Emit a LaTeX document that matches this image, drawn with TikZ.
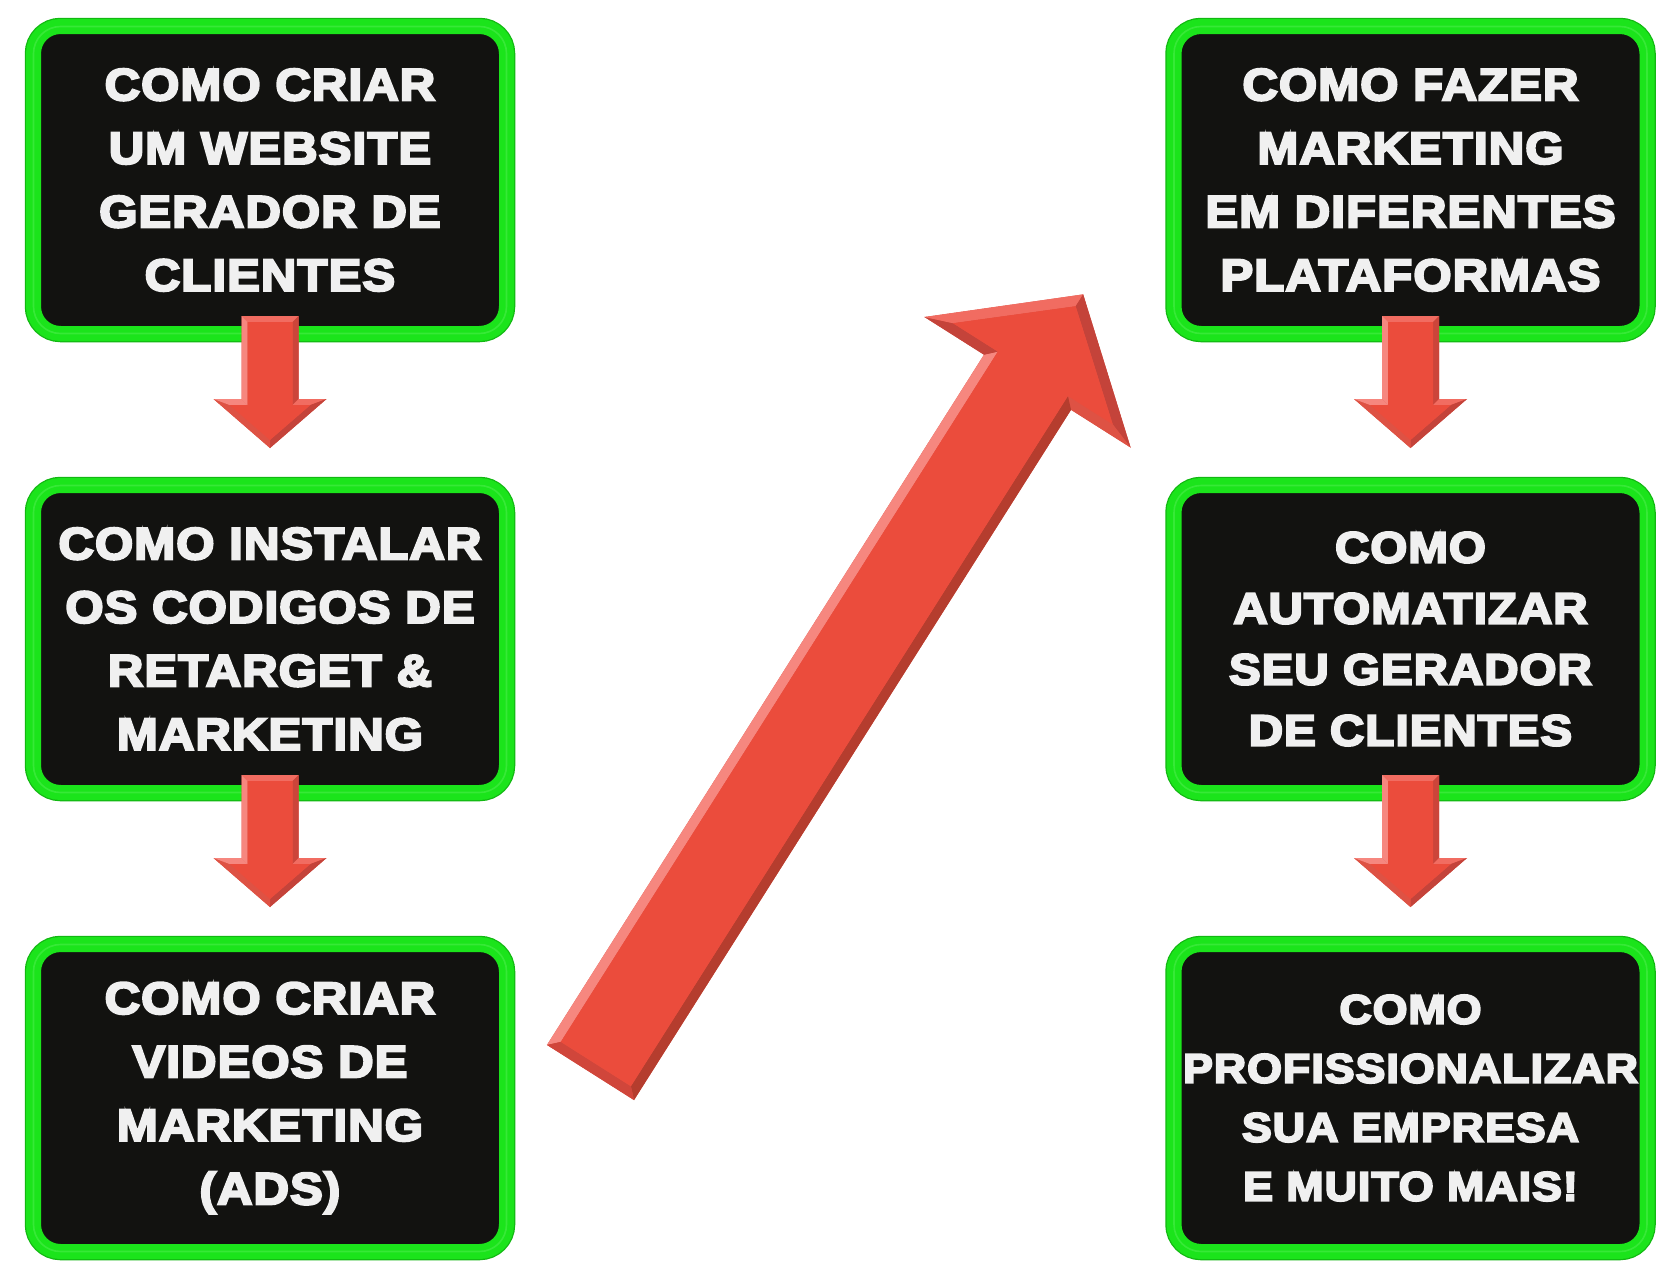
\documentclass[tikz,border=0pt]{standalone}
\usepackage{fontspec}
\newfontfamily\boxfont{Liberation Sans}[BoldFeatures={FakeBold=5,FakeStretch=1.09,LetterSpace=2.5}]
\definecolor{boxgreen}{HTML}{1BE41B}
\definecolor{greenedge}{HTML}{12B812}
\definecolor{greenlight}{HTML}{7BF57B}
\definecolor{boxblack}{HTML}{121210}
\definecolor{textwhite}{HTML}{F0F0F0}
\definecolor{redface}{HTML}{EB4C3C}
\definecolor{redlight}{HTML}{F6877F}
\definecolor{redlight2}{HTML}{F16C61}
\definecolor{redmid}{HTML}{DE5244}
\definecolor{reddark}{HTML}{C4433A}
\definecolor{reddarker}{HTML}{B53D2E}
\begin{document}
\begin{tikzpicture}[x=1pt,y=-1pt,
  boxnode/.style={rectangle, rounded corners=27pt, minimum width=473pt, minimum height=307pt,
    inner sep=0pt, outer sep=0pt, fill=boxblack, draw=boxgreen, line width=15pt, align=center, text=textwhite,
    preaction={draw=greenedge, line width=17.5pt, rounded corners=27pt},
    postaction={draw=greenlight, line width=1.6pt, opacity=0.3, rounded corners=27pt}},
  bigtext/.style={font=\boxfont\bfseries\fontsize{45}{63.5}\selectfont},
  midtext/.style={font=\boxfont\bfseries\fontsize{43.5}{61}\selectfont},
  smalltext/.style={font=\boxfont\bfseries\fontsize{41}{59}\selectfont}]
\fill[white] (0,0) rectangle (1676,1277);
\useasboundingbox (0,0) rectangle (1676,1277);

% boxes
\node[boxnode, bigtext] (b1) at (270,180) {COMO CRIAR\\UM WEBSITE\\GERADOR DE\\CLIENTES};
\node[boxnode, bigtext] (b2) at (270,639) {COMO INSTALAR\\OS CODIGOS DE\\RETARGET \&\\MARKETING};
\node[boxnode, bigtext] (b3) at (270,1098) {COMO CRIAR\\VIDEOS DE\\MARKETING\\(ADS)};
\node[boxnode, bigtext] (b4) at (1410.5,180) {COMO FAZER\\MARKETING\\EM DIFERENTES\\PLATAFORMAS};
\node[boxnode, midtext] (b5) at (1410.5,639) {COMO\\AUTOMATIZAR\\SEU GERADOR\\DE CLIENTES};
\node[boxnode, smalltext] (b6) at (1410.5,1098) {COMO\\PROFISSIONALIZAR\\SUA EMPRESA\\E MUITO MAIS!};

% down arrows
\foreach \src in {b1,b2,b4,b5}{
\begin{scope}[shift={(\src.south)}, yshift=17.5pt]
  \fill[redmid] (-28.5,0) -- (28.5,0) -- (28.5,83) -- (56.5,83) -- (0,132) -- (-56.5,83) -- (-28.5,83) -- cycle;
  \fill[redlight2] (-28.5,0) -- (28.5,0) -- (22.5,6) -- (-22.5,6) -- cycle;
  \fill[reddark!80!redface] (28.5,0) -- (28.5,83) -- (22.5,89) -- (22.5,6) -- cycle;
  \fill[redlight2] (28.5,83) -- (56.5,83) -- (40.4,89) -- (22.5,89) -- cycle;
  \fill[reddark] (56.5,83) -- (0,132) -- (0,124) -- (40.4,89) -- cycle;
  \fill[redmid] (0,132) -- (-56.5,83) -- (-40.4,89) -- (0,124) -- cycle;
  \fill[redlight] (-56.5,83) -- (-28.5,83) -- (-22.5,89) -- (-40.4,89) -- cycle;
  \fill[redlight] (-28.5,83) -- (-28.5,0) -- (-22.5,6) -- (-22.5,89) -- cycle;
  \fill[redface] (-22.5,6) -- (22.5,6) -- (22.5,89) -- (40.4,89) -- (0,124) -- (-40.4,89) -- (-22.5,89) -- cycle;
\end{scope}
}

% big diagonal arrow
\coordinate (bigtail) at (590.5,1072.5);
\begin{scope}[shift={(bigtail)}, rotate=57.66]
  \fill[redmid] (0,-51.5) -- (0,51.5) -- (817,51.5) -- (817,122) -- (921,0) -- (817,-122) -- (817,-51.5) -- cycle;
  \fill[redlight] (0,-51.5) -- (817,-51.5) -- (827,-41.5) -- (10,-41.5) -- cycle;
  \fill[reddark] (817,-51.5) -- (817,-122) -- (827,-94.6) -- (827,-41.5) -- cycle;
  \fill[redlight2] (817,-122) -- (921,0) -- (907,0) -- (827,-94.6) -- cycle;
  \fill[reddark] (921,0) -- (817,122) -- (827,94.6) -- (907,0) -- cycle;
  \fill[redmid] (817,122) -- (817,51.5) -- (827,41.5) -- (827,94.6) -- cycle;
  \fill[reddarker] (817,51.5) -- (0,51.5) -- (10,41.5) -- (827,41.5) -- cycle;
  \fill[reddark!70!redface] (0,51.5) -- (0,-51.5) -- (10,-41.5) -- (10,41.5) -- cycle;
  \fill[redface] (10,-41.5) -- (10,41.5) -- (827,41.5) -- (827,94.6) -- (907,0) -- (827,-94.6) -- (827,-41.5) -- cycle;
\end{scope}
\end{tikzpicture}
\end{document}
